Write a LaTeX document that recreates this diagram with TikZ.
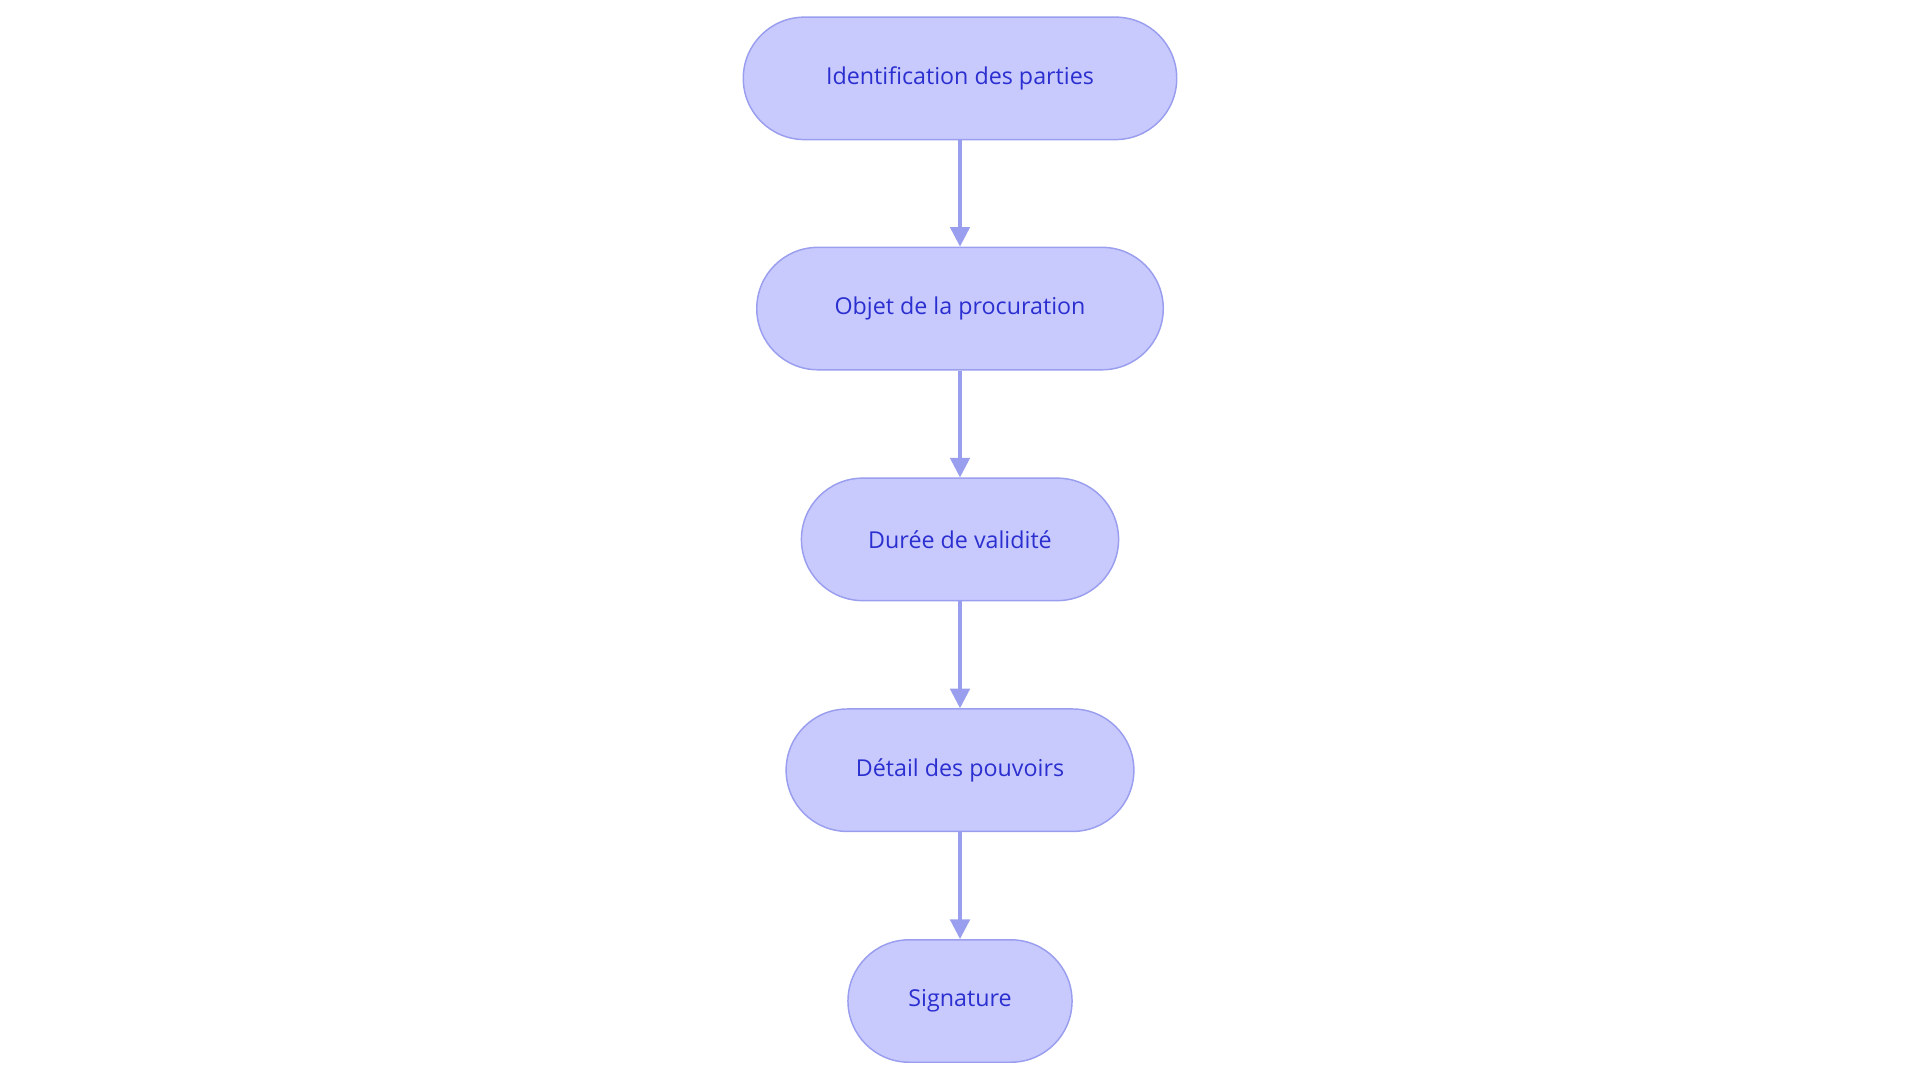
\documentclass[tikz,border=0pt]{standalone}
\usepackage{fontspec}
\setmainfont{Open Sans}
\usetikzlibrary{arrows.meta}
\definecolor{boxfill}{HTML}{C8CAFE}
\definecolor{boxdraw}{HTML}{9A9EEE}
\definecolor{txt}{HTML}{2B2FCF}
\begin{document}
\begin{tikzpicture}[x=1pt,y=1pt,
  box/.style={draw=boxdraw,line width=1.2pt,fill=boxfill,rounded corners=50pt,minimum height=100pt,inner sep=0pt,text=txt,font=\fontsize{19}{23}\selectfont},
  arr/.style={draw=boxdraw,line width=2.5pt,-{Triangle[length=16pt,width=16pt]}}]
\useasboundingbox (0,0) rectangle (1568,884);
\node[box,minimum width=354pt] (a) at (784,820) {Identification des parties};
\node[box,minimum width=332pt] (b) at (784,632) {Objet de la procuration};
\node[box,minimum width=259pt] (c) at (784,443.5) {Durée de validité};
\node[box,minimum width=284pt] (d) at (784,255) {Détail des pouvoirs};
\node[box,minimum width=183pt] (e) at (784,66.5) {Signature};
\draw[arr] (a) -- (b);
\draw[arr] (b) -- (c);
\draw[arr] (c) -- (d);
\draw[arr] (d) -- (e);
\end{tikzpicture}
\end{document}
